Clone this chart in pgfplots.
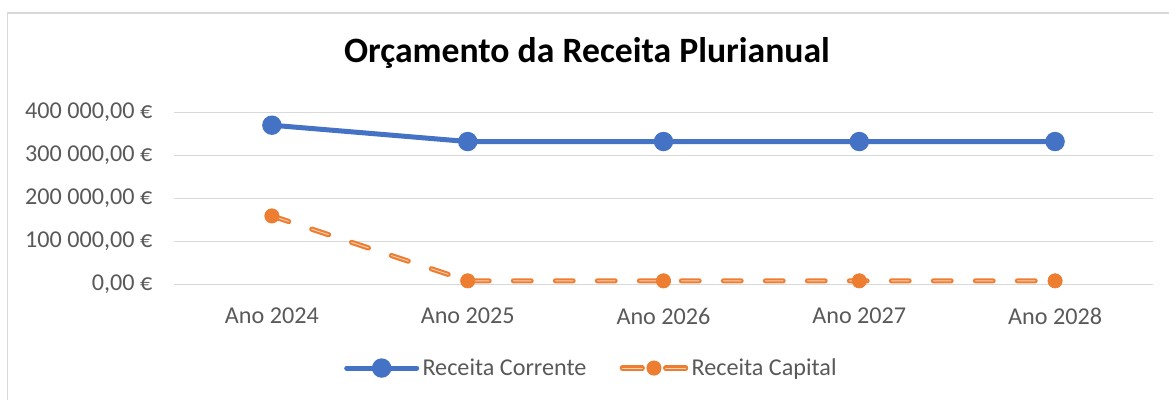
\documentclass[border=0pt]{standalone}
\usepackage{pgfplots}
\pgfplotsset{compat=1.18}
\usepackage{fontspec}
\setmainfont{Carlito}
\definecolor{blueC}{HTML}{4472C4}
\definecolor{orangeC}{HTML}{ED7D31}
\definecolor{gridC}{HTML}{D9D9D9}
\definecolor{textC}{HTML}{595959}
\begin{document}
\begin{tikzpicture}
\useasboundingbox (0,0) rectangle (701.4pt,240pt);
\draw[gridC, line width=0.8pt] (4.5pt,0) -- (4.5pt,232.2pt) -- (701.4pt,232.2pt);
\node[anchor=base, font=\fontsize{21.4}{25}\selectfont\bfseries, text=black] at (352.2pt,202.6pt) {Orçamento da Receita Plurianual};
\begin{axis}[
  at={(104.4pt,69.42pt)}, anchor=south west,
  scale only axis, width=587.4pt, height=103.2pt,
  xmin=-0.5, xmax=4.5, ymin=0, ymax=400000,
  xtick={0,1,2,3,4},
  xticklabels={Ano 2024,Ano 2025,Ano 2026,Ano 2027,Ano 2028},
  ytick={0,100000,200000,300000,400000},
  yticklabels={{0,00 €},{100 000,00 €},{200 000,00 €},{300 000,00 €},{400 000,00 €}},
  scaled y ticks=false,
  ymajorgrids, grid style={gridC, line width=0.8pt},
  axis line style={draw=none}, tick style={draw=none},
  ticklabel style={font=\fontsize{14.5}{17}\selectfont, text=textC},
  yticklabel style={xshift=-9.5pt},
  xticklabel style={yshift=-10.5pt},
  legend style={at={(0.427,-0.487)}, anchor=center, draw=none, legend columns=2,
    font=\fontsize{14.5}{17}\selectfont, text=textC,
    /tikz/every even column/.append style={column sep=18pt}},
  legend cell align=left,
  clip=false,
]
\addplot[blueC, line width=3pt, mark=*, mark size=4.3pt, mark options={draw=none, fill=blueC},
  legend image code/.code={
    \draw[blueC, line width=3pt, line cap=round] (0pt,0pt) -- (42pt,0pt);
    \fill[blueC] (21pt,0pt) circle (4.3pt);
  }] coordinates {(0,370000) (1,332000) (2,332000) (3,332000) (4,332000)};
\addlegendentry{Receita Corrente}
\addplot[orangeC, line width=3.1pt, line cap=round, dash pattern=on 10.6pt off 14.6pt, forget plot] coordinates {(0,159000) (1,8000) (2,8000) (3,8000) (4,8000)};
\addplot[orangeC!35!white, line width=0.55pt, line cap=round, dash pattern=on 10.6pt off 14.6pt, forget plot] coordinates {(0,159000) (1,8000) (2,8000) (3,8000) (4,8000)};
\addplot[orangeC, only marks, mark=*, mark size=4.3pt, mark options={draw=none, fill=orangeC},
  legend image code/.code={
    \draw[orangeC, line width=3.1pt, line cap=round] (0pt,0pt) -- (12pt,0pt);
    \draw[orangeC, line width=3.1pt, line cap=round] (26pt,0pt) -- (38pt,0pt);
    \draw[orangeC!35!white, line width=0.55pt, line cap=round] (0pt,0pt) -- (12pt,0pt);
    \draw[orangeC!35!white, line width=0.55pt, line cap=round] (26pt,0pt) -- (38pt,0pt);
    \fill[orangeC] (19pt,0pt) circle (4.3pt);
  }] coordinates {(0,159000) (1,8000) (2,8000) (3,8000) (4,8000)};
\addlegendentry{Receita Capital}
\end{axis}
\end{tikzpicture}
\end{document}
